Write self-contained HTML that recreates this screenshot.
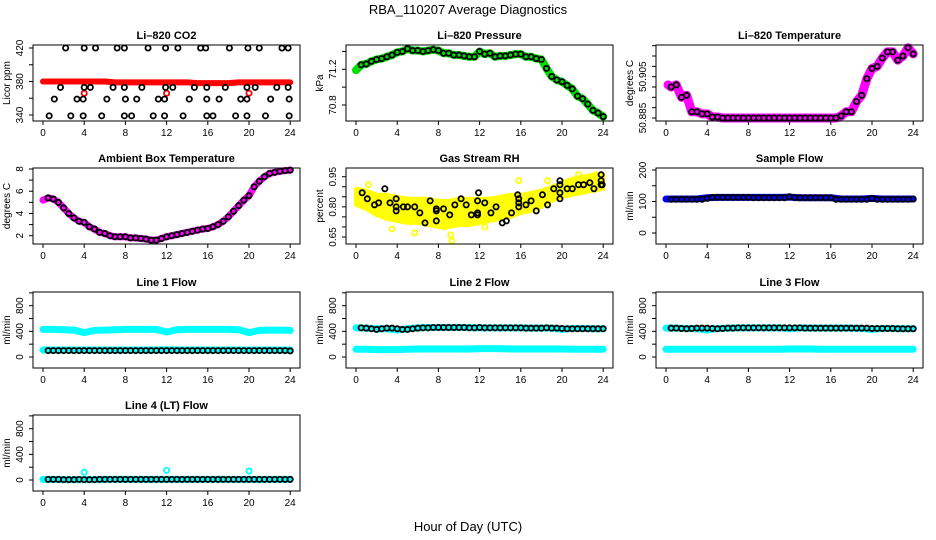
<!DOCTYPE html>
<html><head><meta charset="utf-8"><style>
body{margin:0;background:#fff}
svg{display:block;font-family:"Liberation Sans",sans-serif}
</style></head><body>
<svg id="chart" width="936" height="540" viewBox="0 0 936 540">
<rect width="936" height="540" fill="#fff"/>
<text x="468" y="14" text-anchor="middle" font-size="13">RBA_110207  Average Diagnostics</text>
<text x="468" y="531" text-anchor="middle" font-size="13">Hour of Day (UTC)</text>
</svg>
<script>
const hours = [0.5,1,1.5,2,2.5,3,3.5,4,4.5,5,5.5,6,6.5,7,7.5,8,8.5,9,9.5,10,10.5,11,11.5,12,12.5,13,13.5,14,14.5,15,15.5,16,16.5,17,17.5,18,18.5,19,19.5,20,20.5,21,21.5,22,22.5,23,23.5,24];
const bandHours = [0,1,2,3,4,5,6,7,8,9,10,11,12,13,14,15,16,17,18,19,20,21,22,23,24];
const xTicks = [0,4,8,12,16,20,24];

const co2Hours420 = [2.2,4.0,5.1,7.2,7.9,10.2,11.9,13.1,15.3,15.8,18.1,19.9,21.0,23.2,23.8];
const co2Hours373 = [1.7,4.0,4.6,6.8,7.9,9.6,11.9,12.6,14.7,15.9,17.7,19.8,20.6,22.7,23.8];
const co2Hours359 = [1.1,3.3,3.9,6.2,8.0,9.1,11.2,11.8,14.2,15.9,17.1,19.2,19.8,22.1,23.9];
const co2Hours340 = [0.6,2.7,3.9,5.7,7.9,8.6,10.7,11.8,13.6,15.9,16.5,18.7,19.8,21.6,23.9];
const co2Red = [380,380,380,380,380,380,380,379,379,379,379,379,379,379,379,378,378,378,378,379,379,379,379,379,379];
const co2RedOutHours = [4,12,20];
const co2RedOutVals = [366,366,366];

const pressure = [71.25,71.26,71.29,71.31,71.32,71.34,71.36,71.39,71.40,71.43,71.41,71.41,71.40,71.41,71.42,71.41,71.38,71.38,71.36,71.36,71.35,71.34,71.34,71.40,71.37,71.38,71.34,71.35,71.35,71.36,71.37,71.37,71.34,71.34,71.32,71.31,71.21,71.12,71.08,71.06,71.02,70.98,70.90,70.87,70.81,70.74,70.71,70.67];
const temperature = [50.900,50.901,50.895,50.896,50.888,50.888,50.887,50.887,50.8855,50.8855,50.885,50.885,50.885,50.885,50.885,50.885,50.885,50.885,50.885,50.885,50.885,50.885,50.885,50.885,50.885,50.885,50.885,50.885,50.885,50.885,50.885,50.885,50.885,50.886,50.888,50.888,50.893,50.896,50.904,50.909,50.910,50.914,50.917,50.917,50.913,50.915,50.919,50.916];
const ambient = [5.4,5.3,5.0,4.5,4.0,3.6,3.3,3.2,2.8,2.6,2.3,2.2,2.0,1.9,1.9,1.9,1.8,1.8,1.75,1.7,1.6,1.6,1.75,1.9,2.0,2.1,2.2,2.3,2.4,2.5,2.6,2.65,2.8,3.0,3.3,3.7,4.2,4.7,5.2,5.6,6.4,6.9,7.3,7.6,7.7,7.8,7.85,7.9];
const rhHours = [0.6,1.1,1.8,2.2,2.8,3.3,3.9,3.9,3.9,4.6,5.0,5.7,6.2,6.7,7.2,7.8,7.8,7.8,8.5,9.1,9.6,10.2,10.7,11.2,11.8,11.8,11.8,11.9,12.5,13.1,13.6,14.2,14.6,15.1,15.7,15.8,15.8,15.8,16.5,17.0,17.5,18.1,18.6,19.2,19.8,19.8,19.8,19.8,20.5,21.0,21.6,22.1,22.7,23.1,23.8,23.8,23.9,23.8];
const rhVals = [0.87,0.84,0.81,0.82,0.89,0.82,0.84,0.80,0.78,0.80,0.80,0.80,0.77,0.72,0.83,0.78,0.79,0.73,0.79,0.76,0.81,0.84,0.81,0.76,0.76,0.77,0.83,0.87,0.82,0.77,0.80,0.72,0.73,0.77,0.86,0.84,0.80,0.82,0.81,0.83,0.78,0.86,0.81,0.89,0.84,0.87,0.91,0.93,0.89,0.89,0.91,0.91,0.92,0.89,0.96,0.93,0.91,0.91];
const rhUpper = [0.89,0.88,0.86,0.86,0.85,0.84,0.84,0.84,0.83,0.83,0.84,0.84,0.84,0.84,0.85,0.86,0.86,0.87,0.88,0.90,0.92,0.94,0.95,0.96,0.96];
const rhLower = [0.81,0.79,0.76,0.74,0.73,0.72,0.72,0.71,0.70,0.70,0.71,0.71,0.72,0.73,0.74,0.75,0.77,0.78,0.80,0.83,0.85,0.86,0.87,0.88,0.89];
const rhOutHours = [1.2,5.7,9.2,9.3,8.6,15.8,18.6,23.3,21.6,3.5,12.5];
const rhOutVals = [0.91,0.67,0.66,0.63,0.70,0.93,0.93,0.96,0.96,0.69,0.70];
const sampleFlow = [107,107,107,107,107,107,107,110,113,113,113,113,113,113,113,113,112,112,112,112,112,112,112,115,112,112,112,112,112,112,112,112,107,107,107,107,107,107,107,110,107,107,107,107,107,107,107,108];
const sampleBand = [108,108,108,108,112,113,113,113,113,113,113,113,114,112,112,112,112,108,108,108,110,108,108,108,108];
const line1Black = [100,100,100,100,100,100,100,100,100,100,100,100,100,100,100,100,100,100,100,100,100,100,100,100,100,100,100,100,100,100,100,100,100,100,100,100,100,100,100,100,100,100,100,100,100,100,100,95];
const line1Upper = [430,430,425,420,380,415,420,425,430,430,430,430,390,425,430,430,430,430,430,425,380,415,420,420,415];
const line1Lower = [110,110,110,110,110,110,110,110,110,110,110,110,115,110,110,110,110,110,110,110,110,110,110,110,110];
const line2Black = [455,450,440,430,440,450,450,440,430,430,440,450,455,455,460,460,460,460,460,460,460,455,455,460,455,455,455,455,455,455,455,455,450,450,450,450,455,450,450,445,440,440,440,440,440,440,440,440];
const line2Upper = [455,450,440,440,420,440,455,460,460,460,460,460,455,455,455,455,455,450,450,450,430,445,445,440,440];
const line2Lower = [120,120,115,115,115,120,125,125,125,125,125,125,130,130,130,125,125,125,125,125,125,120,120,120,120];
const line3Black = [450,450,445,440,445,450,450,450,445,440,445,450,450,455,455,455,455,455,455,455,455,455,455,455,455,455,450,450,450,450,450,450,450,450,450,450,450,450,450,445,445,445,445,445,440,440,440,440];
const line3Upper = [450,450,445,440,420,445,450,455,455,455,455,455,440,455,450,450,450,450,450,445,430,445,445,440,440];
const line3Lower = [120,120,120,120,120,120,120,120,120,120,120,120,125,125,125,120,120,120,120,120,120,120,120,120,120];
const line4Black = [10,10,10,5,5,5,10,5,5,5,10,10,10,10,10,10,10,10,10,10,10,10,10,10,10,10,10,10,10,10,10,10,10,10,10,10,10,10,10,10,10,10,10,10,10,10,10,10];
const line4Band = [10,10,5,5,5,5,10,10,10,10,10,10,10,10,10,10,10,10,10,10,10,5,10,10,10];
const line4OutHours = [4,12,20];
const line4OutVals = [120,150,140];

const svg = document.getElementById('chart');
const NS = 'http://www.w3.org/2000/svg';
function mk(tag, attrs, parent){const e=document.createElementNS(NS,tag);for(const k in attrs)e.setAttribute(k,attrs[k]);(parent||svg).appendChild(e);return e;}

const colsLeft=[33,346,656], rowsTop=[45,168,292,415], W=267, H=76;

function makePanel(name, col, row, title, ylab, a1, a2, yTicks, yLabels){
  const L=colsLeft[col], T=rowsTop[row];
  const g=mk('g',{});
  
  
  const xs=h=>L+10+h*10.3;
  const ys=v=>T+a1[1]+(v-a1[0])*(a2[1]-a1[1])/(a2[0]-a1[0]);
  const t=mk('text',{x:L+W/2,y:T-6,'text-anchor':'middle','font-size':11,'font-weight':'bold'},g);
  t.textContent=title;
  
  
  const yl=mk('text',{x:0,y:0,'text-anchor':'middle','font-size':10,transform:`translate(${L-23},${T+H/2}) rotate(-90)`},g);
  yl.textContent=ylab;
  
  
  const plot=mk('g',{},g);
  
  
  const box=mk('rect',{x:L,y:T,width:W,height:H,fill:'none',stroke:'#000','stroke-width':1},g);
  
  
  xTicks.forEach(v=>{
    mk('line',{x1:xs(v),x2:xs(v),y1:T+H,y2:T+H+4,stroke:'#000'},g);
    const tl=mk('text',{x:xs(v),y:T+H+15,'text-anchor':'middle','font-size':10},g);
    tl.textContent=v;
    
    
  });
  yTicks.forEach(v=>{mk('line',{x1:L-4,x2:L,y1:ys(v),y2:ys(v),stroke:'#000'},g);});
  yLabels.forEach(v=>{
    const tl=mk('text',{x:0,y:0,'text-anchor':'middle','font-size':10,transform:`translate(${L-10},${ys(v)}) rotate(-90)`},g);
    tl.textContent=v;
    
    
  });
  return {xs,ys,g:plot};
}
function pts(p,hs,vs,color,nm,r,sw){
  hs.forEach((h,i)=>{
    const c=mk('circle',{cx:p.xs(h),cy:p.ys(vs[i]),r:r||2.6,fill:'none',stroke:color,'stroke-width':sw||1.8},p.g);
    
    
  });
}
function band(p,hs,vs,color,w,nm){
  const l=mk('polyline',{points:hs.map((h,i)=>p.xs(h)+','+p.ys(vs[i])).join(' '),fill:'none',stroke:color,'stroke-width':w,'stroke-linejoin':'round','stroke-linecap':'round'},p.g);
  
  
}
const constArr=(n,v)=>{const a=[];for(let i=0;i<n;i++)a.push(v);return a;};

// CO2
let p=makePanel('co2',0,0,'Li\u2013820 CO2','Licor ppm',[420,3],[340,70],[340,360,380,400,420],[340,380,420]);
band(p,bandHours,co2Red,'#ff0000',6,'co2-band');
pts(p,co2RedOutHours,co2RedOutVals,'#ff0000','co2-outlier');
pts(p,co2Hours420,constArr(co2Hours420.length,420),'#000','co2-point');
pts(p,co2Hours373,constArr(co2Hours373.length,373),'#000','co2-point');
pts(p,co2Hours359,constArr(co2Hours359.length,359),'#000','co2-point');
pts(p,co2Hours340,constArr(co2Hours340.length,339),'#000','co2-point');

// Pressure
p=makePanel('pressure',1,0,'Li\u2013820 Pressure','kPa',[71.2,24.3],[70.8,60],[70.8,71.0,71.2,71.4],['70.8','71.2']);
band(p,[0].concat(hours),[71.19].concat(pressure),'#00dd00',8,'pressure-band');
pts(p,hours,pressure,'#000','pressure-point');

// Temperature
p=makePanel('temperature',2,0,'Li\u2013820 Temperature','degrees C',[50.885,73],[50.915,11],[50.885,50.89,50.895,50.9,50.905,50.91,50.915,50.92],['50.885','50.905']);
band(p,[0.2].concat(hours),[50.901].concat(temperature),'#ff00ff',9,'temperature-band');
pts(p,hours,temperature,'#000','temperature-point');

// Ambient
p=makePanel('ambient',0,1,'Ambient Box Temperature','degrees C',[2,67.7],[8,1],[2,3,4,5,6,7,8],[2,4,6,8]);
band(p,[0].concat(hours),[5.2].concat(ambient),'#ff00ff',7,'ambient-band');
pts(p,hours,ambient,'#000','ambient-point');

// RH
p=makePanel('rh',1,1,'Gas Stream RH','percent',[0.65,69],[0.95,8.7],[0.65,0.70,0.75,0.80,0.85,0.90,0.95],['0.65','0.80','0.95']);
{
  const up=bandHours.map((h,i)=>p.xs(h)+','+p.ys(rhUpper[i]));
  const lo=bandHours.map((h,i)=>p.xs(h)+','+p.ys(rhLower[i])).reverse();
  const poly=mk('polygon',{points:up.concat(lo).join(' '),fill:'#ffff00',stroke:'#ffff00','stroke-width':4,'stroke-linejoin':'round'},p.g);
  
  
}
pts(p,rhOutHours,rhOutVals,'#ffff00','rh-outlier');
pts(p,rhHours,rhVals,'#000','rh-point');

// Sample flow
p=makePanel('sample-flow',2,1,'Sample Flow','ml/min',[0,65],[200,2],[0,50,100,150,200],[0,100,200]);
band(p,bandHours,sampleBand,'#0000ff',7,'sample-flow-band');
pts(p,hours,sampleFlow,'#000','sample-flow-point');

// Line flows
const fT=[0,200,400,600,800,1000], fL=[0,400,800];
p=makePanel('line1-flow',0,2,'Line 1 Flow','ml/min',[0,65],[800,13.7],fT,fL);
band(p,bandHours,line1Upper,'#00ffff',7,'line1-upper-band');
band(p,bandHours,line1Lower,'#00ffff',7,'line1-lower-band');
pts(p,hours,line1Black,'#000','line1-point');

p=makePanel('line2-flow',1,2,'Line 2 Flow','ml/min',[0,65],[800,13.7],fT,fL);
band(p,bandHours,line2Upper,'#00ffff',7,'line2-upper-band');
band(p,bandHours,line2Lower,'#00ffff',7,'line2-lower-band');
pts(p,hours,line2Black,'#000','line2-point');

p=makePanel('line3-flow',2,2,'Line 3 Flow','ml/min',[0,65],[800,13.7],fT,fL);
band(p,bandHours,line3Upper,'#00ffff',7,'line3-upper-band');
band(p,bandHours,line3Lower,'#00ffff',7,'line3-lower-band');
pts(p,hours,line3Black,'#000','line3-point');

p=makePanel('line4-flow',0,3,'Line 4 (LT) Flow','ml/min',[0,65],[800,13.7],fT,fL);
band(p,bandHours,line4Band,'#00ffff',7,'line4-band');
pts(p,line4OutHours,line4OutVals,'#00ffff','line4-outlier');
pts(p,hours,line4Black,'#000','line4-point');
</script>
</body></html>
